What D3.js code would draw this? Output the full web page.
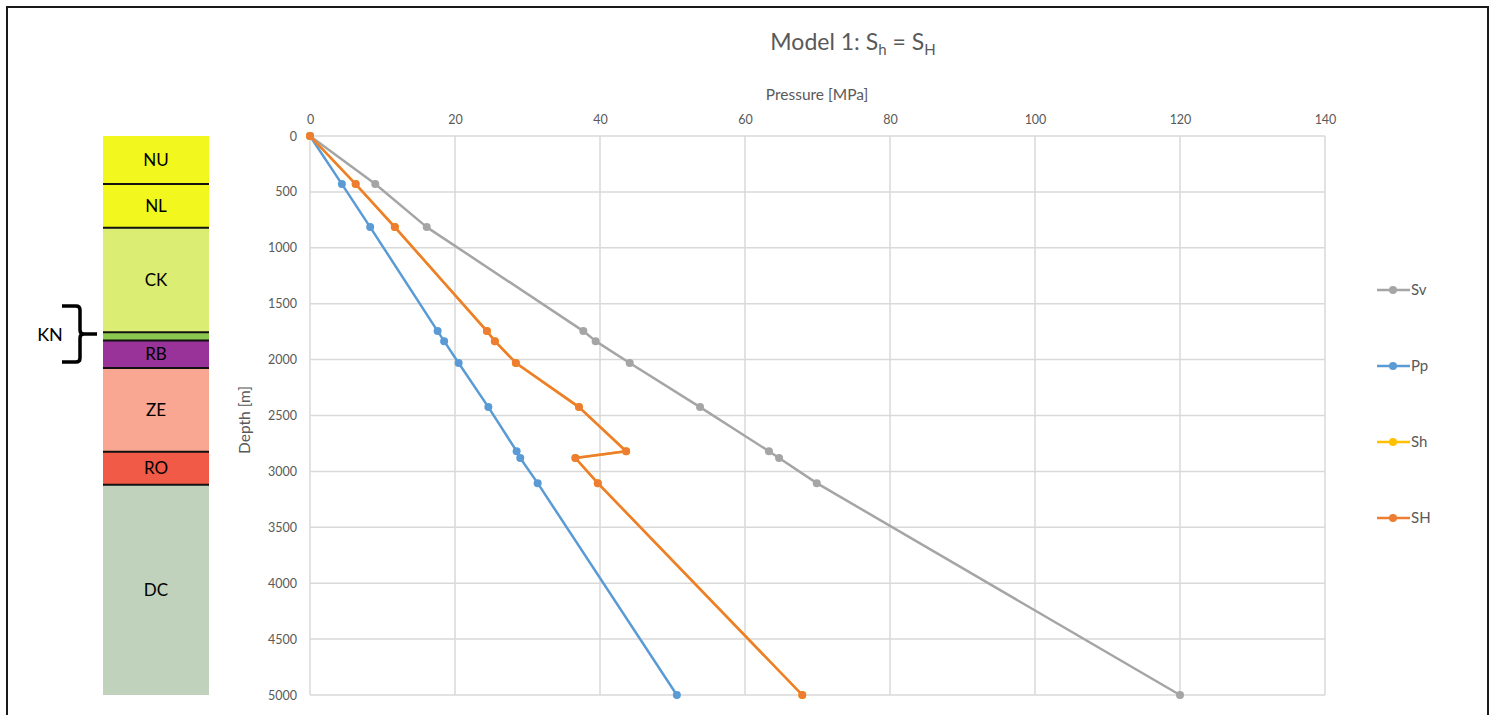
<!DOCTYPE html>
<html>
<head>
<meta charset="utf-8">
<script src="https://cdn.jsdelivr.net/npm/d3@7"></script>
<style>
  html, body { margin: 0; padding: 0; background: #fff; }
  svg { display: block; font-family: Lato, "Open Sans", sans-serif; }
</style>
</head>
<body>
<svg id="chart" width="1496" height="715"></svg>
<script>
// ---------- Data ----------
const depths = [0, 430, 815, 1745, 1835, 2030, 2425, 2820, 2880, 3105, 5000];
const sv = [0, 9.0, 16.1, 37.7, 39.4, 44.1, 53.8, 63.3, 64.7, 69.9, 120];
const pp = [0, 4.4, 8.3, 17.6, 18.5, 20.5, 24.6, 28.5, 29.0, 31.4, 50.6];
const sh = [0, 6.3, 11.7, 24.4, 25.5, 28.4, 37.1, 43.6, 36.6, 39.7, 67.9];
const sH = [0, 6.3, 11.7, 24.4, 25.5, 28.4, 37.1, 43.6, 36.6, 39.7, 67.9];

const seriesNames = ["Sv", "Pp", "Sh", "SH"];
const seriesColors = ["#a5a5a5", "#5b9bd5", "#ffc000", "#ed7d31"];

const xTicks = [0, 20, 40, 60, 80, 100, 120, 140];
const yTicks = [0, 500, 1000, 1500, 2000, 2500, 3000, 3500, 4000, 4500, 5000];

const layerNames = ["NU", "NL", "CK", "KN", "RB", "ZE", "RO", "DC"];
const layerTops = [0, 430, 820, 1755, 1830, 2075, 2825, 3120];
const layerBottoms = [430, 820, 1755, 1830, 2075, 2825, 3120, 5000];
const layerColors = ["#f2f71d", "#f2f71d", "#dbed72", "#8cc850", "#993399", "#f9a692", "#f05a46", "#c0d2bb"];
const layerLabelled = [true, true, true, false, true, true, true, true];

// ---------- Setup ----------
const svg = d3.select("#chart");
const x = d3.scaleLinear().domain([0, 140]).range([310, 1325]);
const y = d3.scaleLinear().domain([0, 5000]).range([136, 695]);
const gridColor = "#d9d9d9";
const textColor = "#595959";
const fontFam = "Lato, 'Open Sans', sans-serif";

// outer frame
svg.append("rect").attr("x", 7).attr("y", 7).attr("width", 1481).attr("height", 730)
  .attr("fill", "none").attr("stroke", "#1a1a1a").attr("stroke-width", 2);

// gridlines
svg.append("g").selectAll("line").data(xTicks).join("line")
  .attr("x1", d => x(d)).attr("x2", d => x(d))
  .attr("y1", y(0)).attr("y2", y(5000))
  .attr("stroke", gridColor).attr("stroke-width", 1.5);
svg.append("g").selectAll("line").data(yTicks).join("line")
  .attr("x1", x(0)).attr("x2", x(140))
  .attr("y1", d => y(d)).attr("y2", d => y(d))
  .attr("stroke", gridColor).attr("stroke-width", 1.5);

// axes (labels only, via d3 axis)
const xAxis = svg.append("g").attr("transform", `translate(0,${y(0) - 12})`)
  .call(d3.axisTop(x).tickValues(xTicks).tickFormat(d3.format("d")).tickSize(0).tickPadding(0));
xAxis.select(".domain").remove();
xAxis.selectAll("text").attr("fill", textColor).attr("font-size", 12.5).attr("font-family", fontFam);

const yAxis = svg.append("g").attr("transform", `translate(${x(0) - 13},0)`)
  .call(d3.axisLeft(y).tickValues(yTicks).tickFormat(d3.format("d")).tickSize(0).tickPadding(0));
yAxis.select(".domain").remove();
yAxis.selectAll("text").attr("fill", textColor).attr("font-size", 12.5).attr("font-family", fontFam);

// title
const title = svg.append("text").attr("x", 853).attr("y", 50).attr("text-anchor", "middle")
  .attr("font-size", 23).attr("fill", textColor);
title.append("tspan").text("Model 1: S");
title.append("tspan").attr("font-size", 15).attr("dy", 5).text("h");
title.append("tspan").attr("dy", -5).text(" = S");
title.append("tspan").attr("font-size", 15).attr("dy", 5).text("H");

// axis titles
svg.append("text").attr("x", 817).attr("y", 100).attr("text-anchor", "middle")
  .attr("font-size", 15.5).attr("fill", textColor).text("Pressure [MPa]");
svg.append("text").attr("transform", "translate(250,420) rotate(-90)").attr("text-anchor", "middle")
  .attr("font-size", 15.5).attr("fill", textColor).text("Depth [m]");

// series
const allSeries = [sv, pp, sh, sH];
const line = d3.line().x(d => x(d[0])).y(d => y(d[1]));
allSeries.forEach((vals, i) => {
  const pts = vals.map((v, j) => [v, depths[j]]);
  const g = svg.append("g");
  g.append("path").datum(pts).attr("d", line).attr("fill", "none")
    .attr("stroke", seriesColors[i]).attr("stroke-width", 2.5).attr("stroke-linejoin", "round");
  g.selectAll("circle").data(pts).join("circle")
    .attr("cx", d => x(d[0])).attr("cy", d => y(d[1])).attr("r", 4)
    .attr("fill", seriesColors[i]);
});

// legend
const legendY = [290, 366, 442, 518];
seriesNames.forEach((name, i) => {
  const g = svg.append("g").attr("transform", `translate(1377,${legendY[i]})`);
  g.append("line").attr("x1", 0).attr("x2", 33).attr("y1", 0).attr("y2", 0)
    .attr("stroke", seriesColors[i]).attr("stroke-width", 2.5);
  g.append("circle").attr("cx", 16).attr("cy", 0).attr("r", 4).attr("fill", seriesColors[i]);
  g.append("text").attr("x", 34).attr("y", 5).attr("font-size", 15).attr("fill", textColor).text(name);
});

// stratigraphic column
const colX0 = 103, colX1 = 209;
const strat = svg.append("g");
layerNames.forEach((name, i) => {
  strat.append("rect").attr("x", colX0).attr("width", colX1 - colX0)
    .attr("y", y(layerTops[i])).attr("height", y(layerBottoms[i]) - y(layerTops[i]))
    .attr("fill", layerColors[i]);
});
layerNames.forEach((name, i) => {
  if (i > 0) {
    strat.append("line").attr("x1", colX0).attr("x2", colX1)
      .attr("y1", y(layerTops[i])).attr("y2", y(layerTops[i]))
      .attr("stroke", "#111").attr("stroke-width", 2);
  }
  if (layerLabelled[i]) {
    strat.append("text").attr("x", (colX0 + colX1) / 2)
      .attr("y", (y(layerTops[i]) + y(layerBottoms[i])) / 2 + 6)
      .attr("text-anchor", "middle").attr("font-size", 17).attr("fill", "#000").text(name);
  }
});

// KN brace
const bTop = 306, bBot = 362, bMid = 334;
const brace = `M62,${bTop} L76,${bTop} Q80,${bTop} 80,${bTop + 4} L80,${bMid - 4} Q80,${bMid} 84,${bMid} L97,${bMid}
 M84,${bMid} Q80,${bMid} 80,${bMid + 4} L80,${bBot - 4} Q80,${bBot} 76,${bBot} L62,${bBot}`;
svg.append("path").attr("d", brace).attr("fill", "none").attr("stroke", "#000").attr("stroke-width", 3.5);
svg.append("text").attr("x", 50).attr("y", 341).attr("text-anchor", "middle")
  .attr("font-size", 18).attr("fill", "#000").text("KN");
</script>
</body>
</html>
